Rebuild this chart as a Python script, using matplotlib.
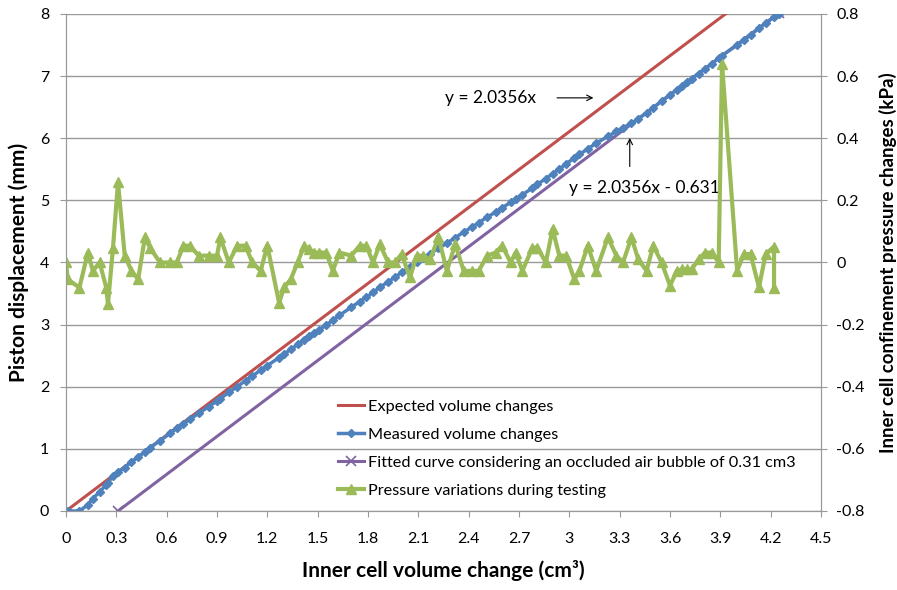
import numpy as np
import matplotlib
matplotlib.use("Agg")
import matplotlib.pyplot as plt

plt.rcParams['font.family'] = ['Lato', 'DejaVu Sans']

# pressure readings (x = inner cell volume change, y = kPa)
press_vol = [0.00, 0.01, 0.08, 0.13, 0.16, 0.20, 0.24, 0.25, 0.28, 0.31,
             0.35, 0.39, 0.43, 0.47, 0.50, 0.56, 0.62, 0.66, 0.70, 0.74,
             0.79, 0.85, 0.90, 0.92, 0.97, 1.02, 1.07, 1.11, 1.16, 1.20,
             1.27, 1.30, 1.34, 1.38, 1.42, 1.45, 1.48, 1.51, 1.55, 1.59,
             1.63, 1.70, 1.75, 1.79, 1.83, 1.87, 1.92, 1.96, 2.00, 2.05,
             2.09, 2.13, 2.17, 2.22, 2.27, 2.32, 2.37, 2.42, 2.46, 2.51,
             2.56, 2.60, 2.65, 2.68, 2.72, 2.78, 2.81, 2.86, 2.90, 2.94,
             2.98, 3.03, 3.06, 3.11, 3.16, 3.23, 3.28, 3.32, 3.37, 3.41,
             3.46, 3.50, 3.55, 3.60, 3.64, 3.67, 3.70, 3.73, 3.77, 3.81,
             3.85, 3.89, 3.91, 4.00, 4.04, 4.08, 4.13, 4.17, 4.22, 4.22]
press_kpa = [0.0, -0.054, -0.081, 0.032, -0.027, 0.0, -0.081, -0.134, 0.048, 0.258,
             0.022, -0.027, -0.054, 0.081, 0.048, 0.0, 0.0, 0.0, 0.054, 0.054,
             0.022, 0.022, 0.022, 0.081, 0.0, 0.054, 0.054, 0.0, -0.027, 0.054,
             -0.13, -0.08, -0.054, 0.0, 0.054, 0.043, 0.032, 0.032, 0.032, -0.027,
             0.032, 0.022, 0.054, 0.054, 0.0, 0.059, 0.0, 0.0, 0.027, -0.048,
             0.022, 0.022, 0.01, 0.081, -0.027, 0.059, -0.027, -0.027, -0.027, 0.022,
             0.032, 0.054, 0.0, 0.032, -0.027, 0.048, 0.048, 0.0, 0.108, 0.022,
             0.022, -0.054, -0.027, 0.054, -0.027, 0.081, 0.022, 0.0, 0.081, 0.011,
             -0.027, 0.054, 0.0, -0.075, -0.027, -0.022, -0.022, -0.022, 0.011, 0.032,
             0.032, 0.0, 0.64, -0.027, 0.027, 0.027, -0.08, 0.027, 0.051, -0.083]

# measured piston displacement
meas_vol = press_vol[:-1] + [4.25]
meas_mm = [0.0, 0.0, 0.0, 0.10, 0.20, 0.31, 0.42, 0.45, 0.57, 0.63,
           0.70, 0.79, 0.87, 0.95, 1.02, 1.13, 1.25, 1.33, 1.40, 1.48,
           1.57, 1.68, 1.77, 1.81, 1.91, 2.00, 2.10, 2.17, 2.27, 2.34,
           2.47, 2.53, 2.60, 2.68, 2.75, 2.81, 2.86, 2.92, 2.99, 3.07,
           3.15, 3.28, 3.37, 3.44, 3.52, 3.60, 3.69, 3.76, 3.84, 3.93,
           4.00, 4.07, 4.14, 4.23, 4.31, 4.40, 4.49, 4.57, 4.64, 4.73,
           4.81, 4.88, 4.97, 5.02, 5.09, 5.20, 5.26, 5.35, 5.43, 5.50,
           5.59, 5.68, 5.74, 5.83, 5.92, 6.03, 6.11, 6.17, 6.24, 6.31,
           6.41, 6.49, 6.60, 6.70, 6.78, 6.84, 6.90, 6.96, 7.04, 7.12,
           7.20, 7.29, 7.33, 7.50, 7.58, 7.66, 7.77, 7.85, 7.95, 8.00]

slope = 2.0356
offset = 0.631
bubble = 0.31

exp_vol = [0.0, 4.25]
fit_vol = [bubble, 4.25]

fig = plt.figure(figsize=(8.97, 5.90), dpi=100)
ax = fig.add_axes([0.0736, 0.1339, 0.8417, 0.8424])
ax2 = ax.twinx()

l1, = ax.plot(exp_vol, [slope * v for v in exp_vol], color='#C0504D', lw=2.2,
              label='Expected volume changes')
l3, = ax.plot(fit_vol, [slope * v - offset for v in fit_vol], color='#8064A2', lw=2.2,
              marker='x', ms=7, mew=1.2, label='Fitted curve considering an occluded air bubble of 0.31 cm3')
l2, = ax.plot(meas_vol, meas_mm, color='#4F81BD', lw=2.5, marker='D', ms=4.5,
              label='Measured volume changes')
l4, = ax2.plot(press_vol, press_kpa, color='#9BBB59', lw=3, marker='^', ms=7.5,
               label='Pressure variations during testing')

ax.set_xlim(0, 4.5)
ax.set_ylim(0, 8)
ax2.set_ylim(-0.8, 0.8)
xt = np.arange(0, 4.51, 0.3)
ax.set_xticks(xt)
ax.set_xticklabels(['0' if abs(t) < 1e-9 else '%g' % round(t, 1) for t in xt])
ax.set_yticks(range(0, 9))
yt2 = np.arange(-0.8, 0.81, 0.2)
ax2.set_yticks(yt2)
ax2.set_yticklabels(['%g' % round(t, 1) if abs(t) > 1e-9 else '0' for t in yt2])

ax.grid(axis='y', color='#999999', lw=1)
ax.set_axisbelow(True)
for a in (ax, ax2):
    for s in a.spines.values():
        s.set_color('#999999')
    a.tick_params(direction='out', length=4, color='#999999', labelsize=11.5)
ax.spines['top'].set_visible(False)
ax2.spines['top'].set_visible(False)
ax.tick_params(axis='x', pad=11)
ax.tick_params(axis='y', pad=8)
ax2.tick_params(axis='y', pad=7)

ax.set_xlabel('Inner cell volume change (cm³)', fontsize=15, fontweight='bold', labelpad=10)
ax.set_ylabel('Piston displacement (mm)', fontsize=15, fontweight='bold', labelpad=8)
ax2.set_ylabel('Inner cell confinement pressure changes (kPa)', fontsize=13.5,
               fontweight='bold', rotation=90, labelpad=10)

ax.annotate('', xy=(3.16, 6.65), xytext=(2.91, 6.65),
            arrowprops=dict(arrowstyle='->', color='black', lw=0.8))
ax.text(2.26, 6.65, 'y = 2.0356x', fontsize=12.5, va='center', ha='left')
ax.annotate('', xy=(3.36, 6.05), xytext=(3.36, 5.5),
            arrowprops=dict(arrowstyle='->', color='black', lw=0.8))
ax.text(3.0, 5.2, 'y = 2.0356x - 0.631', fontsize=12.5, va='center', ha='left')

ax2.legend([l1, l2, l3, l4], [l.get_label() for l in (l1, l2, l3, l4)],
           loc='upper left', bbox_to_anchor=(0.352, 0.238), frameon=False,
           fontsize=11.7, handlelength=1.6, handletextpad=0.2, labelspacing=0.85,
           borderaxespad=0)

plt.savefig('out.png')
plt.close()
